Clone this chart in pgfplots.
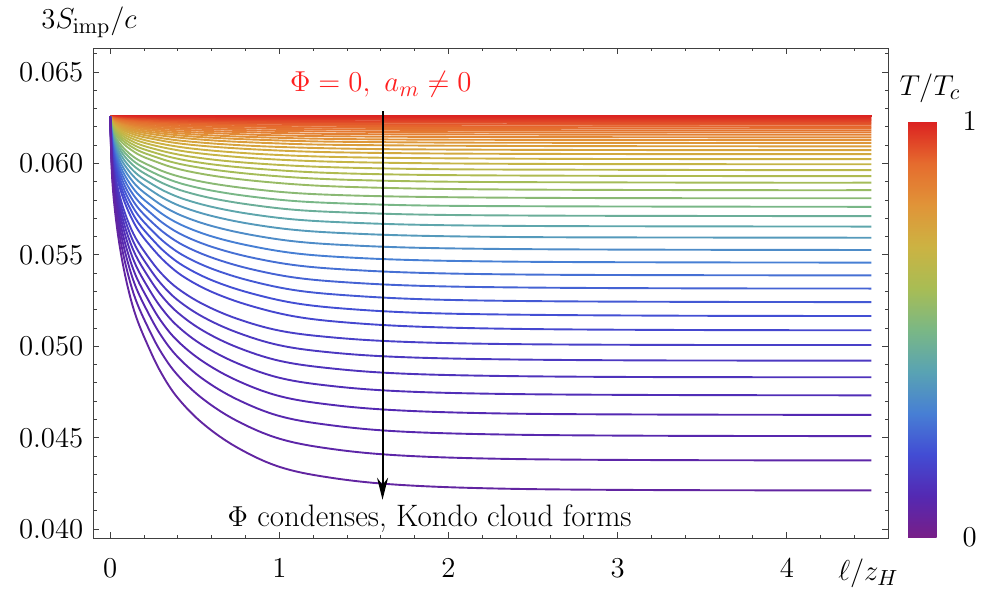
\documentclass[border=0pt]{standalone}
\usepackage{pgfplots}
\pgfplotsset{compat=1.18}
\usepackage{pgfplotstable}
\usetikzlibrary{arrows.meta}

\newcommand{\fs}{\fontsize{15.5}{18}\selectfont}
\definecolor{annred}{rgb}{1,0.12,0.12}

% rainbow map (0 = bottom, 1 = top)
\pgfplotsset{colormap={mrainbow}{
  rgb=(0.47,0.12,0.53) rgb=(0.33,0.16,0.70) rgb=(0.26,0.30,0.83)
  rgb=(0.28,0.50,0.83) rgb=(0.35,0.64,0.70) rgb=(0.48,0.72,0.52)
  rgb=(0.66,0.74,0.33) rgb=(0.80,0.70,0.26) rgb=(0.88,0.58,0.22)
  rgb=(0.90,0.42,0.18) rgb=(0.86,0.13,0.13)}}

% lowest curves
\pgfplotstableread{
x k1 k2 k3 k4 k5 k6 k7 k8
0 0.06258 0.06258 0.06258 0.06258 0.06258 0.06258 0.06258 0.06258
0.01 0.05945 0.05970 0.05990 0.06008 0.06025 0.06040 0.06054 0.06067
0.03 0.05726 0.05769 0.05803 0.05833 0.05861 0.05887 0.05911 0.05933
0.06 0.05526 0.05584 0.05632 0.05673 0.05712 0.05747 0.05780 0.05810
0.1 0.05339 0.05413 0.05473 0.05525 0.05573 0.05617 0.05658 0.05696
0.15 0.05170 0.05257 0.05328 0.05389 0.05446 0.05499 0.05547 0.05593
0.22 0.05010 0.05110 0.05191 0.05262 0.05327 0.05388 0.05443 0.05495
0.3 0.04857 0.04969 0.05060 0.05139 0.05213 0.05281 0.05343 0.05401
0.4 0.04717 0.04841 0.04941 0.05028 0.05109 0.05184 0.05252 0.05316
0.55 0.04576 0.04711 0.04820 0.04916 0.05004 0.05085 0.05160 0.05230
0.75 0.04447 0.04592 0.04710 0.04813 0.04908 0.04995 0.05076 0.05151
1.0 0.04341 0.04495 0.04619 0.04728 0.04828 0.04921 0.05006 0.05086
1.3 0.04282 0.04440 0.04569 0.04681 0.04784 0.04880 0.04967 0.05050
1.7 0.04243 0.04404 0.04535 0.04650 0.04755 0.04852 0.04942 0.05026
2.3 0.04222 0.04385 0.04518 0.04633 0.04740 0.04838 0.04929 0.05013
3.2 0.04214 0.04378 0.04511 0.04627 0.04734 0.04832 0.04923 0.05008
4.5 0.04212 0.04376 0.04509 0.04625 0.04732 0.04831 0.04922 0.05007
}\tabA

% middle curves
\pgfplotstableread{
x k9 k10 k11 k12 k13 k14 k15 k16 k17 k18 k19 k20
0 0.06258 0.06258 0.06258 0.06258 0.06258 0.06258 0.06258 0.06258 0.06258 0.06258 0.06258 0.06258
0.011 0.06079 0.06091 0.06103 0.06114 0.06125 0.06136 0.06146 0.06156 0.06166 0.06175 0.06182 0.06190
0.033 0.05954 0.05974 0.05994 0.06013 0.06032 0.06050 0.06068 0.06085 0.06101 0.06116 0.06129 0.06142
0.066 0.05839 0.05867 0.05894 0.05921 0.05947 0.05972 0.05996 0.06020 0.06042 0.06063 0.06081 0.06098
0.11 0.05733 0.05768 0.05802 0.05835 0.05867 0.05899 0.05930 0.05960 0.05987 0.06013 0.06036 0.06057
0.165 0.05636 0.05677 0.05718 0.05757 0.05795 0.05832 0.05869 0.05905 0.05937 0.05968 0.05995 0.06020
0.242 0.05544 0.05592 0.05638 0.05683 0.05727 0.05770 0.05812 0.05853 0.05890 0.05925 0.05956 0.05985
0.33 0.05457 0.05510 0.05562 0.05613 0.05662 0.05710 0.05757 0.05803 0.05845 0.05884 0.05919 0.05951
0.44 0.05377 0.05436 0.05493 0.05549 0.05603 0.05656 0.05708 0.05758 0.05804 0.05847 0.05885 0.05921
0.605 0.05296 0.05360 0.05423 0.05484 0.05543 0.05600 0.05657 0.05712 0.05762 0.05809 0.05851 0.05890
0.825 0.05223 0.05292 0.05359 0.05424 0.05488 0.05550 0.05611 0.05670 0.05724 0.05775 0.05820 0.05862
1.1 0.05162 0.05235 0.05306 0.05375 0.05443 0.05508 0.05573 0.05636 0.05693 0.05746 0.05794 0.05838
1.43 0.05128 0.05203 0.05277 0.05348 0.05418 0.05485 0.05552 0.05617 0.05676 0.05731 0.05780 0.05825
1.87 0.05106 0.05182 0.05257 0.05330 0.05401 0.05470 0.05538 0.05604 0.05664 0.05720 0.05770 0.05817
2.53 0.05094 0.05172 0.05247 0.05321 0.05392 0.05462 0.05531 0.05597 0.05658 0.05715 0.05766 0.05812
3.52 0.05089 0.05167 0.05243 0.05317 0.05389 0.05459 0.05528 0.05595 0.05656 0.05713 0.05764 0.05810
4.5 0.05088 0.05166 0.05242 0.05316 0.05388 0.05458 0.05527 0.05594 0.05655 0.05712 0.05763 0.05810
}\tabB

% upper curves, close to T = Tc
\pgfplotstableread{
x k21 k22 k23 k24 k25 k26 k27 k28 k29 k30 k31 k32 k33 k34 k35 k36 k37 k38 k39 k40 k41 k42 k43 k44
0 0.06258 0.06258 0.06258 0.06258 0.06258 0.06258 0.06258 0.06258 0.06258 0.06258 0.06258 0.06258 0.06258 0.06258 0.06258 0.06258 0.06258 0.06258 0.06258 0.06258 0.06258 0.06258 0.06258 0.06258
0.012 0.06196 0.06203 0.06208 0.06213 0.06218 0.06222 0.06226 0.06230 0.06233 0.06236 0.06238 0.06240 0.06243 0.06245 0.06246 0.06248 0.06250 0.06251 0.06253 0.06254 0.06255 0.06256 0.06257 0.06258
0.036 0.06153 0.06164 0.06173 0.06182 0.06190 0.06197 0.06204 0.06210 0.06215 0.06220 0.06224 0.06228 0.06232 0.06235 0.06238 0.06241 0.06244 0.06246 0.06249 0.06251 0.06253 0.06255 0.06256 0.06258
0.072 0.06113 0.06128 0.06141 0.06153 0.06164 0.06174 0.06184 0.06192 0.06199 0.06206 0.06212 0.06217 0.06222 0.06227 0.06231 0.06235 0.06238 0.06242 0.06245 0.06248 0.06251 0.06253 0.06256 0.06258
0.12 0.06077 0.06095 0.06111 0.06126 0.06140 0.06153 0.06165 0.06175 0.06184 0.06192 0.06200 0.06206 0.06213 0.06219 0.06224 0.06229 0.06233 0.06238 0.06242 0.06245 0.06249 0.06252 0.06255 0.06258
0.18 0.06043 0.06065 0.06084 0.06102 0.06119 0.06134 0.06148 0.06160 0.06171 0.06180 0.06189 0.06197 0.06204 0.06211 0.06218 0.06223 0.06229 0.06234 0.06239 0.06243 0.06247 0.06251 0.06255 0.06258
0.264 0.06012 0.06037 0.06059 0.06079 0.06098 0.06115 0.06132 0.06145 0.06158 0.06169 0.06179 0.06188 0.06196 0.06204 0.06212 0.06218 0.06224 0.06231 0.06236 0.06241 0.06246 0.06250 0.06254 0.06258
0.36 0.05981 0.06009 0.06034 0.06057 0.06079 0.06098 0.06116 0.06131 0.06146 0.06158 0.06169 0.06179 0.06189 0.06198 0.06206 0.06214 0.06220 0.06227 0.06233 0.06239 0.06244 0.06249 0.06254 0.06258
0.48 0.05954 0.05985 0.06012 0.06037 0.06061 0.06082 0.06102 0.06119 0.06135 0.06148 0.06160 0.06171 0.06182 0.06192 0.06201 0.06209 0.06217 0.06224 0.06231 0.06237 0.06243 0.06248 0.06254 0.06258
0.66 0.05926 0.05960 0.05989 0.06016 0.06043 0.06066 0.06088 0.06106 0.06123 0.06138 0.06151 0.06164 0.06175 0.06186 0.06196 0.06205 0.06213 0.06221 0.06228 0.06235 0.06242 0.06247 0.06253 0.06258
0.9 0.05901 0.05937 0.05969 0.05998 0.06026 0.06051 0.06075 0.06094 0.06113 0.06129 0.06143 0.06156 0.06169 0.06180 0.06191 0.06201 0.06209 0.06218 0.06226 0.06233 0.06240 0.06247 0.06253 0.06258
1.2 0.05880 0.05918 0.05952 0.05983 0.06013 0.06039 0.06064 0.06085 0.06104 0.06121 0.06136 0.06150 0.06163 0.06176 0.06187 0.06197 0.06207 0.06216 0.06224 0.06232 0.06239 0.06246 0.06252 0.06258
1.56 0.05868 0.05907 0.05942 0.05974 0.06005 0.06032 0.06058 0.06079 0.06100 0.06117 0.06132 0.06147 0.06160 0.06173 0.06185 0.06195 0.06205 0.06215 0.06223 0.06231 0.06239 0.06245 0.06252 0.06258
2.04 0.05860 0.05900 0.05936 0.05968 0.06000 0.06028 0.06054 0.06076 0.06097 0.06114 0.06130 0.06145 0.06159 0.06171 0.06183 0.06194 0.06204 0.06214 0.06223 0.06230 0.06238 0.06245 0.06252 0.06258
2.76 0.05856 0.05897 0.05933 0.05966 0.05997 0.06025 0.06052 0.06074 0.06095 0.06113 0.06129 0.06144 0.06158 0.06170 0.06182 0.06193 0.06203 0.06213 0.06222 0.06230 0.06238 0.06245 0.06252 0.06258
3.84 0.05854 0.05895 0.05931 0.05964 0.05996 0.06024 0.06051 0.06073 0.06094 0.06112 0.06128 0.06143 0.06157 0.06170 0.06182 0.06193 0.06203 0.06213 0.06222 0.06230 0.06238 0.06245 0.06252 0.06258
4.5 0.05854 0.05895 0.05931 0.05964 0.05996 0.06024 0.06051 0.06073 0.06094 0.06112 0.06128 0.06143 0.06157 0.06170 0.06182 0.06193 0.06203 0.06213 0.06222 0.06230 0.06238 0.06245 0.06252 0.06258
}\tabC

\begin{document}
\begin{tikzpicture}
\begin{axis}[
    name=ax,
    scale only axis,
    width=397.5pt, height=245pt,
    xmin=-0.1, xmax=4.6,
    ymin=0.0395, ymax=0.0663,
    xtick={0,1,2,3,4},
    minor xtick={0.2,0.4,0.6,0.8,1.2,1.4,1.6,1.8,2.2,2.4,2.6,2.8,3.2,3.4,3.6,3.8,4.2,4.4},
    ytick={0.040,0.045,0.050,0.055,0.060,0.065},
    minor ytick={0.041,0.042,0.043,0.044,0.046,0.047,0.048,0.049,0.051,0.052,0.053,0.054,0.056,0.057,0.058,0.059,0.061,0.062,0.063,0.064,0.066},
    scaled y ticks=false,
    tick align=inside,
    major tick length=3pt, minor tick length=1.6pt,
    tick style={black!75, line width=0.5pt},
    axis line style={black!75, line width=0.6pt},
    ticklabel style={font=\fs},
    yticklabel style={xshift=-1.5pt, /pgf/number format/fixed,
        /pgf/number format/fixed zerofill, /pgf/number format/precision=3},
    xticklabel style={yshift=-7pt},
    colormap name=mrainbow,
    point meta min=0, point meta max=1,
    colorbar,
    colorbar style={
        scale only axis,
        width=23.8pt, height=208pt,
        at={(parent axis.south east)}, anchor=south west,
        xshift=1.35pt, yshift=0.35pt,
        ytick={0,1},
        yticklabel style={font=\fs},
        axis line style={draw=none},
        major tick length=0pt,
    },
    every axis plot/.append style={line width=0.95pt, smooth, tension=0.6},
]
\addplot[color of colormap=1000] table[x=x,y=k44] {\tabC};
\addplot[color of colormap=990] table[x=x,y=k43] {\tabC};
\addplot[color of colormap=980] table[x=x,y=k42] {\tabC};
\addplot[color of colormap=970] table[x=x,y=k41] {\tabC};
\addplot[color of colormap=955] table[x=x,y=k40] {\tabC};
\addplot[color of colormap=940] table[x=x,y=k39] {\tabC};
\addplot[color of colormap=925] table[x=x,y=k38] {\tabC};
\addplot[color of colormap=910] table[x=x,y=k37] {\tabC};
\addplot[color of colormap=895] table[x=x,y=k36] {\tabC};
\addplot[color of colormap=880] table[x=x,y=k35] {\tabC};
\addplot[color of colormap=865] table[x=x,y=k34] {\tabC};
\addplot[color of colormap=850] table[x=x,y=k33] {\tabC};
\addplot[color of colormap=830] table[x=x,y=k32] {\tabC};
\addplot[color of colormap=810] table[x=x,y=k31] {\tabC};
\addplot[color of colormap=790] table[x=x,y=k30] {\tabC};
\addplot[color of colormap=770] table[x=x,y=k29] {\tabC};
\addplot[color of colormap=750] table[x=x,y=k28] {\tabC};
\addplot[color of colormap=730] table[x=x,y=k27] {\tabC};
\addplot[color of colormap=705] table[x=x,y=k26] {\tabC};
\addplot[color of colormap=680] table[x=x,y=k25] {\tabC};
\addplot[color of colormap=650] table[x=x,y=k24] {\tabC};
\addplot[color of colormap=620] table[x=x,y=k23] {\tabC};
\addplot[color of colormap=590] table[x=x,y=k22] {\tabC};
\addplot[color of colormap=565] table[x=x,y=k21] {\tabC};
\addplot[color of colormap=535] table[x=x,y=k20] {\tabB};
\addplot[color of colormap=495] table[x=x,y=k19] {\tabB};
\addplot[color of colormap=455] table[x=x,y=k18] {\tabB};
\addplot[color of colormap=415] table[x=x,y=k17] {\tabB};
\addplot[color of colormap=375] table[x=x,y=k16] {\tabB};
\addplot[color of colormap=335] table[x=x,y=k15] {\tabB};
\addplot[color of colormap=300] table[x=x,y=k14] {\tabB};
\addplot[color of colormap=270] table[x=x,y=k13] {\tabB};
\addplot[color of colormap=245] table[x=x,y=k12] {\tabB};
\addplot[color of colormap=225] table[x=x,y=k11] {\tabB};
\addplot[color of colormap=205] table[x=x,y=k10] {\tabB};
\addplot[color of colormap=185] table[x=x,y=k9] {\tabB};
\addplot[color of colormap=165] table[x=x,y=k8] {\tabA};
\addplot[color of colormap=145] table[x=x,y=k7] {\tabA};
\addplot[color of colormap=130] table[x=x,y=k6] {\tabA};
\addplot[color of colormap=115] table[x=x,y=k5] {\tabA};
\addplot[color of colormap=100] table[x=x,y=k4] {\tabA};
\addplot[color of colormap=90] table[x=x,y=k3] {\tabA};
\addplot[color of colormap=75] table[x=x,y=k2] {\tabA};
\addplot[color of colormap=60] table[x=x,y=k1] {\tabA};

\draw[-{Stealth[length=11pt,width=5.5pt]}, line width=1pt]
    (axis cs:1.61,0.06285) -- (axis cs:1.61,0.04161);
\node[annred, font=\fs] at (axis cs:1.60,0.06432) {$\Phi=0,\ a_m\neq 0$};
\node[font=\fs] at (axis cs:1.888,0.04057) {$\Phi$ condenses, Kondo cloud forms};
\end{axis}
\node[font=\fs] at ([xshift=-2.15pt,yshift=12.9pt]ax.north west) {$3S_{\mathrm{imp}}/c$};
\node[font=\fs] at ([xshift=-10pt,yshift=-17.35pt]ax.south east) {$\ell/z_H$};
\node[font=\fs] at ([xshift=20.85pt,yshift=-19.85pt]ax.north east) {$T/T_c$};
\pgfresetboundingbox
\path[use as bounding box] ([xshift=-46.65pt,yshift=-28.85pt]ax.south west)
    rectangle ([xshift=47.35pt,yshift=24.15pt]ax.north east);
\end{tikzpicture}
\end{document}
